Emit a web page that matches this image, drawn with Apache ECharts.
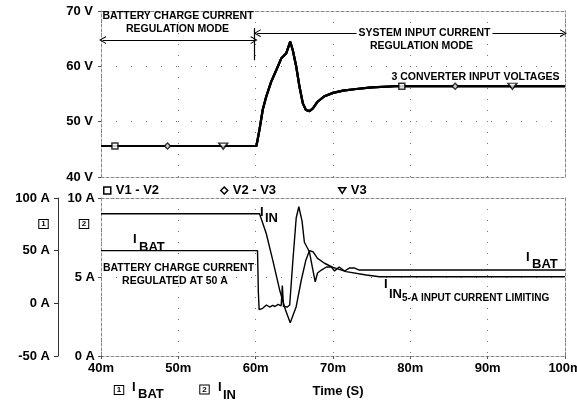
<!DOCTYPE html>
<html>
<head>
<meta charset="utf-8">
<script src="https://cdn.jsdelivr.net/npm/echarts@6/dist/echarts.min.js"></script>
<style>
  html, body { margin: 0; padding: 0; background: #fff; }
  #chart { width: 577px; height: 403px; }
</style>
</head>
<body>
<div id="chart"></div>
<script>
// time axis in ms
const timeTicks = [40, 50, 60, 70, 80, 90, 100];

// converter input voltage (the three traces lie on top of each other)
const vTime  = [40, 60.1, 60.5, 60.92, 61.36, 62.0, 62.66, 63.3, 63.5, 63.95, 64.47, 64.8, 65.24, 65.67, 66.1, 66.5, 66.96, 67.4, 68.0, 68.9, 70.0, 71.3, 73.0, 75.0, 78.0, 100];
const vVolts = [45.6, 45.6, 48.6, 52.2, 54.5, 57.2, 59.3, 61.4, 61.6, 62.35, 64.45, 62.9, 60.0, 56.3, 53.3, 52.1, 51.9, 52.4, 53.6, 54.6, 55.2, 55.6, 55.9, 56.2, 56.4, 56.4];

// marker positions of each trace [time, volts]
const v12Marks = [[41.8, 45.6], [78.9, 56.4]];
const v23Marks = [[48.6, 45.6], [85.8, 56.4]];
const v3Marks  = [[55.8, 45.6], [93.2, 56.4]];

// battery charge current, axis 1 (A)
const ibatTime = [40, 60.24, 60.35, 60.45, 60.9, 61.4, 61.8, 62.2, 62.5, 62.9, 63.3, 63.45, 63.6, 64.1, 64.4, 64.8, 65.24, 65.58, 66.0, 66.3, 66.96, 67.35, 67.7, 68.0, 68.5, 69.16, 69.8, 70.2, 70.8, 71.5, 72.1, 72.8, 73.4, 100];
const ibatAmps = [50, 50, 10, -6, -4.7, -1.6, -3.5, -2, -3, -1, -2.5, 17, -3, -3.5, -1.6, 39.5, 81, 91.7, 78, 58, 48.7, 33.5, 20.5, 28.8, 31.6, 34.5, 34.5, 30.7, 34.5, 30.7, 33.5, 33.5, 31.6, 31.6];

// system input current, axis 2 (A)
const iinTime = [40, 60.5, 61.36, 62.2, 63.1, 63.86, 64.47, 64.6, 65.24, 65.9, 66.5, 66.96, 67.4, 68.0, 68.9, 70.0, 71.7, 74.3, 76.0, 100];
const iinAmps = [9.0, 9.0, 7.77, 6.08, 4.18, 2.91, 2.11, 2.07, 3.12, 4.81, 6.08, 6.67, 6.6, 6.18, 5.87, 5.61, 5.34, 5.13, 5.02, 5.02];

const zip = (a, b) => a.map((t, i) => [t, b[i]]);

const FONT = 'Liberation Sans, Arial, sans-serif';
const gridDotH = { color: '#777', width: 1, type: [1, 14] };
const gridDotV = { color: '#777', width: 1, type: [1, 10] };
const dashBorder = { color: '#888', width: 1, type: [3, 2] };
const lbl = { color: '#000', fontFamily: FONT, fontWeight: 'bold', fontSize: 13 };

const chevron = 'path://M5,0 L10,10 L8.6,10 L5,2.8 L1.4,10 L0,10 Z';

function borderX(gridIndex, position) {
  return { type: 'value', gridIndex, position, min: 40, max: 100,
    axisLine: { show: true, onZero: false, lineStyle: dashBorder }, axisTick: { show: false },
    axisLabel: { show: false }, splitLine: { show: false } };
}
function borderY(gridIndex, min, max) {
  return { type: 'value', gridIndex, position: 'right', min, max,
    axisLine: { show: true, onZero: false, lineStyle: dashBorder }, axisTick: { show: false },
    axisLabel: { show: false }, splitLine: { show: false } };
}

function txt(x, y, text, size, align, bg) {
  const style = { text, fill: '#000', font: 'bold ' + size + 'px ' + FONT,
    textAlign: align || 'left', textVerticalAlign: 'middle' };
  if (bg) { style.backgroundColor = '#fff'; style.padding = [0, 2, 0, 2]; }
  return { type: 'text', x, y, z: 100, style };
}
function boxNum(x, y, n) {
  return { type: 'text', x, y, z: 100,
    style: { text: n, fill: '#000', font: 'bold 8px ' + FONT, textAlign: 'center',
      textVerticalAlign: 'middle', borderColor: '#000', borderWidth: 1,
      padding: [0, 2, 0, 2], backgroundColor: '#fff' } };
}

const chart = echarts.init(document.getElementById('chart'));

const legendItem = (name, icon, left) => ({
  left, top: 179, itemWidth: 7, itemHeight: 7, itemGap: 0,
  textStyle: lbl,
  data: [{ name, icon, itemStyle: { color: '#fff', borderColor: '#000', borderWidth: 1.5 } }]
});

const markerSeries = (name, data, symbol, size, rotate) => ({
  name, type: 'scatter', xAxisIndex: 0, yAxisIndex: 0, data,
  symbol, symbolSize: size, symbolRotate: rotate || 0, z: 5,
  itemStyle: { color: '#fff', borderColor: '#000', borderWidth: 1.5 }
});

const voltLine = (name, extra) => Object.assign({
  name, type: 'line', xAxisIndex: 0, yAxisIndex: 0,
  data: zip(vTime, vVolts), showSymbol: false, animation: false,
  lineStyle: { color: '#000', width: 2.2 }, itemStyle: { color: '#000' }
}, extra || {});

chart.setOption({
  animation: false,
  backgroundColor: '#fff',
  grid: [
    { left: 101, top: 11, width: 464, height: 166, outerBoundsMode: 'none', containLabel: false },
    { left: 101, top: 198, width: 464, height: 158, outerBoundsMode: 'none', containLabel: false }
  ],
  legend: [
    legendItem('V1 - V2', 'rect', 98),
    legendItem('V2 - V3', 'diamond', 215),
    legendItem('V3', 'path://M0,0 L10,0 L5,8 Z', 333)
  ],
  xAxis: [
    { type: 'value', gridIndex: 0, min: 40, max: 100, interval: 10,
      axisLine: { show: true, onZero: false, lineStyle: dashBorder }, axisTick: { show: false },
      axisLabel: { show: false }, splitLine: { show: true, lineStyle: gridDotV } },
    { type: 'value', gridIndex: 1, min: 40, max: 100, interval: 10,
      axisLine: { show: true, onZero: false, lineStyle: dashBorder },
      axisTick: { show: true, length: 3, lineStyle: { color: '#555' } },
      axisLabel: Object.assign({ margin: 6, formatter: v => v + 'm', showMaxLabel: true }, lbl),
      splitLine: { show: true, lineStyle: gridDotV },
      name: 'Time (S)', nameLocation: 'middle', nameGap: 29,
      nameTextStyle: Object.assign({ padding: [0, 0, 0, 10] }, lbl) },
    borderX(0, 'top'),
    borderX(1, 'top')
  ],
  yAxis: [
    { type: 'value', gridIndex: 0, min: 40, max: 70, interval: 10, position: 'left',
      axisLine: { show: true, onZero: false, lineStyle: dashBorder },
      axisTick: { show: true, length: 3, lineStyle: { color: '#555' } },
      axisLabel: Object.assign({ margin: 8, formatter: '{value} V', showMaxLabel: true, showMinLabel: true }, lbl),
      splitLine: { show: true, lineStyle: gridDotH } },
    { type: 'value', gridIndex: 1, min: 0, max: 10, interval: 5, position: 'left',
      axisLine: { show: true, onZero: false, lineStyle: dashBorder },
      axisTick: { show: true, length: 3, lineStyle: { color: '#555' } },
      axisLabel: Object.assign({ margin: 6, formatter: '{value} A', showMaxLabel: true, showMinLabel: true }, lbl),
      splitLine: { show: true, lineStyle: gridDotH } },
    { type: 'value', gridIndex: 1, min: -50, max: 100, interval: 50, position: 'left', offset: 43,
      axisLine: { show: true, onZero: false, lineStyle: { color: '#333', width: 1 } },
      axisTick: { show: true, length: 4, lineStyle: { color: '#333' } },
      axisLabel: Object.assign({ margin: 8, formatter: '{value} A', showMaxLabel: true, showMinLabel: true }, lbl),
      splitLine: { show: false } },
    borderY(0, 40, 70),
    borderY(1, 0, 10)
  ],
  series: [
    voltLine('V1 - V2', {
      markLine: {
        silent: true, animation: false,
        symbol: [chevron, chevron], symbolSize: [8, 7],
        label: { show: false },
        lineStyle: { color: '#000', width: 1.2, type: 'solid' },
        data: [
          [{ coord: [40.2, 64.75] }, { coord: [59.8, 64.75] }],
          [{ coord: [60.2, 66.0] }, { coord: [99.8, 66.0] }],
          [{ coord: [59.85, 66.9], symbol: 'none' }, { coord: [59.85, 61.1], symbol: 'none' }]
        ]
      }
    }),
    voltLine('V2 - V3'),
    voltLine('V3'),
    markerSeries('V1 - V2', v12Marks, 'rect', 6),
    markerSeries('V2 - V3', v23Marks, 'diamond', 6),
    markerSeries('V3', v3Marks, 'triangle', [9, 6], 180),
    { name: 'IBAT', type: 'line', xAxisIndex: 1, yAxisIndex: 2,
      data: zip(ibatTime, ibatAmps), showSymbol: false,
      lineStyle: { color: '#000', width: 1.4 } },
    { name: 'IIN', type: 'line', xAxisIndex: 1, yAxisIndex: 1,
      data: zip(iinTime, iinAmps), showSymbol: false,
      lineStyle: { color: '#000', width: 1.4 } }
  ],
  graphic: [
    txt(178, 16, 'BATTERY CHARGE CURRENT', 10.5, 'center'),
    txt(177.5, 29, 'REGULATION MODE', 10.5, 'center'),
    txt(424.5, 33, 'SYSTEM INPUT CURRENT', 10.5, 'center', true),
    txt(421.5, 46, 'REGULATION MODE', 10.5, 'center'),
    txt(475.5, 77, '3 CONVERTER INPUT VOLTAGES', 10.5, 'center'),
    txt(178.5, 268, 'BATTERY CHARGE CURRENT', 10.5, 'center'),
    txt(175, 281, 'REGULATED AT 50 A', 10.5, 'center'),
    txt(133, 239, 'I', 13), txt(139, 247, 'BAT', 13),
    txt(260, 212, 'I', 13), txt(265, 218.5, 'IN', 13),
    txt(526, 257.5, 'I', 13), txt(532, 264.5, 'BAT', 13),
    txt(384, 284, 'I', 13), txt(389, 294, 'IN', 13),
    txt(402, 298.5, '5-A INPUT CURRENT LIMITING', 10),
    boxNum(43.5, 224, '1'), boxNum(84, 224, '2'),
    boxNum(119, 390, '1'), txt(132, 387.5, 'I', 13), txt(138, 394.5, 'BAT', 13),
    boxNum(204.5, 389.5, '2'), txt(218, 387.5, 'I', 13), txt(223, 395, 'IN', 13)
  ]
});
</script>
</body>
</html>
